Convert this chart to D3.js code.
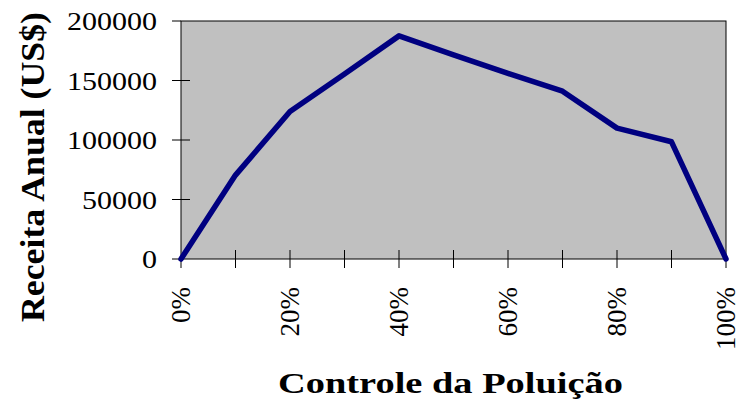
<!DOCTYPE html>
<html>
<head>
<meta charset="utf-8">
<script src="https://cdn.jsdelivr.net/npm/d3@7"></script>
<style>
  body { margin: 0; background: #fff; }
  text { font-family: "Liberation Serif", "Times New Roman", serif; }
</style>
</head>
<body>
<div id="chart"></div>
<script>
// chart values
var percents = [0, 10, 20, 30, 40, 50, 60, 70, 80, 90, 100];
var receita = [0, 70500, 124000, 155500, 187500, 171500, 156000, 141000, 110000, 98500, 0];
var yTicks = [0, 50000, 100000, 150000, 200000];
var xLabels = [0, 20, 40, 60, 80, 100];

var svgWidth = 736, svgHeight = 411;
var margin = { top: 21, left: 181, right: 10, bottom: 152 };
var w = svgWidth - margin.left - margin.right;
var h = svgHeight - margin.top - margin.bottom;

var svg = d3.select("#chart").append("svg")
  .attr("width", svgWidth)
  .attr("height", svgHeight);

var x = d3.scaleLinear().domain([0, 100]).range([0, w]);
var y = d3.scaleLinear().domain([0, 200000]).range([h, 0]);

var g = svg.append("g")
  .attr("transform", "translate(" + margin.left + "," + margin.top + ")");

// plot area
g.append("rect")
  .attr("width", w)
  .attr("height", h)
  .attr("fill", "#c0c0c0")
  .attr("stroke", "#000")
  .attr("stroke-width", 1);

// y axis ticks (crossing) and labels
g.selectAll(".ytick")
  .data(yTicks)
  .enter().append("line")
  .attr("x1", -9).attr("x2", function(d) { return (d == 0 || d == 200000) ? 0 : 9; })
  .attr("y1", function(d) { return y(d); })
  .attr("y2", function(d) { return y(d); })
  .attr("stroke", "#000");

// the labels are wider than plain Times, stretch them to ~15px per digit
g.selectAll(".ylab")
  .data(yTicks)
  .enter().append("text")
  .attr("x", -24)
  .attr("y", function(d) { return y(d); })
  .attr("dy", "0.35em")
  .attr("text-anchor", "end")
  .attr("font-size", 26)
  .attr("textLength", function(d) { return String(d).length * 15; })
  .attr("lengthAdjust", "spacingAndGlyphs")
  .text(function(d) { return d; });

// x axis ticks
g.selectAll(".xtick")
  .data(percents)
  .enter().append("line")
  .attr("x1", function(d) { return x(d); })
  .attr("x2", function(d) { return x(d); })
  .attr("y1", function(d) { return (d == 0 || d == 100) ? h : h - 9; })
  .attr("y2", h + 9)
  .attr("stroke", "#000");

g.selectAll(".xlab")
  .data(xLabels)
  .enter().append("text")
  .attr("transform", function(d) { return "translate(" + x(d) + "," + (h + 28) + ") rotate(-90)"; })
  .attr("dy", "0.35em")
  .attr("text-anchor", "end")
  .attr("font-size", 27)
  .text(function(d) { return d + "%"; });

// line
var line = d3.line()
  .x(function(d, i) { return x(percents[i]); })
  .y(function(d) { return y(d); });

g.append("path")
  .datum(receita)
  .attr("d", line)
  .attr("fill", "none")
  .attr("stroke", "#000080")
  .attr("stroke-width", 5.5)
  .attr("stroke-linejoin", "round")
  .attr("stroke-linecap", "round");

// axis titles
svg.append("text")
  .attr("transform", "translate(44,167) rotate(-90)")
  .attr("text-anchor", "middle")
  .attr("font-size", 34)
  .attr("font-weight", "bold")
  .attr("textLength", 310)
  .attr("lengthAdjust", "spacingAndGlyphs")
  .text("Receita Anual (US$)");

svg.append("text")
  .attr("x", 278)
  .attr("y", 393)
  .attr("font-size", 30)
  .attr("font-weight", "bold")
  .attr("textLength", 345)
  .attr("lengthAdjust", "spacingAndGlyphs")
  .text("Controle da Poluição");
</script>
</body>
</html>
